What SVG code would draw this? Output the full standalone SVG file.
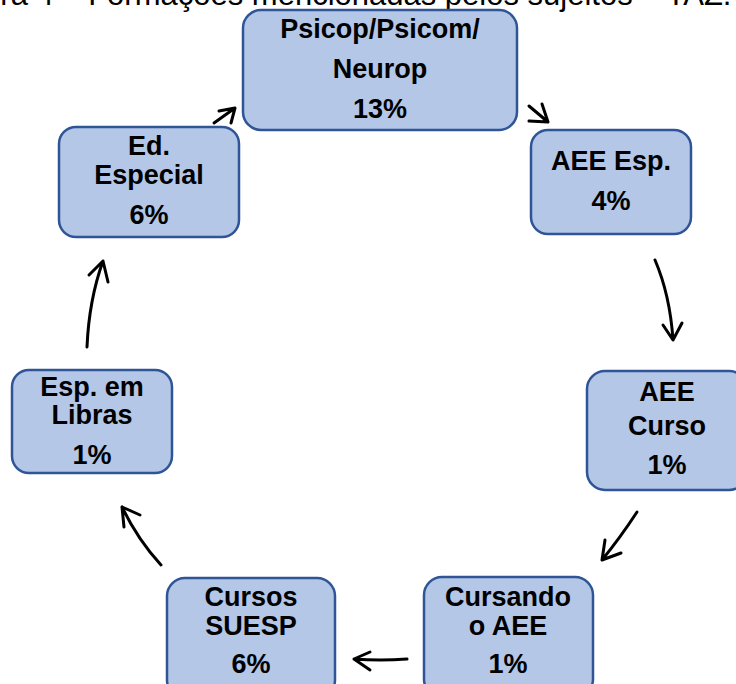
<svg xmlns="http://www.w3.org/2000/svg" width="736" height="684" viewBox="0 0 736 684">
  <style>
    .box { fill: #b4c7e7; stroke: #2f5597; stroke-width: 2.5; }
    .lbl { font-family: "Liberation Sans", Arial, sans-serif; font-weight: bold; font-size: 27px; fill: #000; text-anchor: middle; }
    .title { font-family: "Liberation Sans", Arial, sans-serif; font-size: 31px; fill: #000; }
    .arr { fill: none; stroke: #000; stroke-width: 3; stroke-linecap: round; stroke-linejoin: round; }
  </style>
  <rect width="736" height="684" fill="#fff"/>

  <!-- caption, mostly cut off at the top edge -->
  <text class="title" x="-60" y="5">Figura 4 – Formações mencionadas pelos sujeitos – TAZ.</text>

  <g id="node-psicop">
    <rect class="box" x="243" y="10" width="274" height="120" rx="18"/>
    <text class="lbl" x="380" y="38">Psicop/Psicom/</text>
    <text class="lbl" x="380" y="78">Neurop</text>
    <text class="lbl" x="380" y="118">13%</text>
  </g>

  <g id="node-aee-esp">
    <rect class="box" x="531" y="130" width="160" height="104" rx="17"/>
    <text class="lbl" x="611" y="170">AEE Esp.</text>
    <text class="lbl" x="611" y="210">4%</text>
  </g>

  <g id="node-ed-especial">
    <rect class="box" x="59" y="127" width="180" height="110" rx="17"/>
    <text class="lbl" x="149" y="155">Ed.</text>
    <text class="lbl" x="149" y="184">Especial</text>
    <text class="lbl" x="149" y="224">6%</text>
  </g>

  <g id="node-esp-libras">
    <rect class="box" x="12" y="370" width="160" height="103" rx="17"/>
    <text class="lbl" x="92" y="396">Esp. em</text>
    <text class="lbl" x="92" y="424">Libras</text>
    <text class="lbl" x="92" y="464">1%</text>
  </g>

  <g id="node-aee-curso">
    <rect class="box" x="587" y="371" width="160" height="119" rx="18"/>
    <text class="lbl" x="667" y="401">AEE</text>
    <text class="lbl" x="667" y="435">Curso</text>
    <text class="lbl" x="667" y="474">1%</text>
  </g>

  <g id="node-cursando">
    <rect class="box" x="424" y="577" width="169" height="120" rx="18"/>
    <text class="lbl" x="508" y="606">Cursando</text>
    <text class="lbl" x="508" y="635">o AEE</text>
    <text class="lbl" x="508" y="673">1%</text>
  </g>

  <g id="node-cursos-suesp">
    <rect class="box" x="167" y="578" width="168" height="120" rx="18"/>
    <text class="lbl" x="251" y="606">Cursos</text>
    <text class="lbl" x="251" y="635">SUESP</text>
    <text class="lbl" x="251" y="673">6%</text>
  </g>

  <g id="connectors">
    <!-- Ed. Especial -> Psicop -->
    <path class="arr" d="M214 123 L235 108 M235 108 L219 111 M235 108 L231 123"/>
    <!-- Psicop -> AEE Esp. -->
    <path class="arr" d="M529 106 L548 122 M548 122 L529 121 M548 122 L542 104"/>
    <!-- AEE Esp. -> AEE Curso -->
    <path class="arr" d="M655 260 Q670 295 673 340 M673 340 L663 325 M673 340 L682 323"/>
    <!-- AEE Curso -> Cursando -->
    <path class="arr" d="M637 512 Q620 538 602 560 M602 560 L605 540 M602 560 L621 553"/>
    <!-- Cursando -> Cursos SUESP -->
    <path class="arr" d="M407 659 Q380 661 354 659 M354 659 L370 652 M354 659 L370 670"/>
    <!-- Cursos SUESP -> Esp. em Libras -->
    <path class="arr" d="M161 565 Q138 540 122 507 M122 507 L124 527 M122 507 L140 515"/>
    <!-- Esp. em Libras -> Ed. Especial -->
    <path class="arr" d="M87 347 Q89 300 103 261 M103 261 L89 275 M103 261 L108 282"/>
  </g>
</svg>
